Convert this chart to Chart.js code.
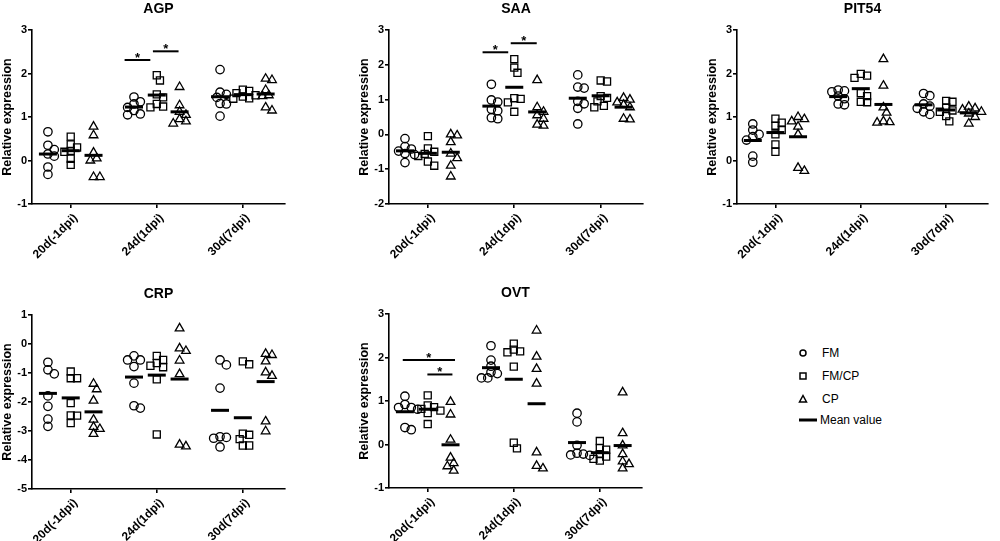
<!DOCTYPE html>
<html>
<head>
<meta charset="utf-8">
<script src="https://cdn.jsdelivr.net/npm/chart.js@4.4.1/dist/chart.umd.min.js"></script>
<style>
body { margin:0; background:#fff; width:1000px; height:541px; overflow:hidden; position:relative; font-family:"Liberation Sans", Arial, sans-serif; }
canvas { position:absolute; }
.lg { position:absolute; font-size:12px; color:#000; line-height:14px; }
.sym { position:absolute; }
</style>
</head>
<body>
<canvas id="agp" width="297" height="264" style="left:0;top:0"></canvas>
<canvas id="saa" width="298" height="264" style="left:357px;top:0"></canvas>
<canvas id="pit" width="295" height="264" style="left:705px;top:0"></canvas>
<canvas id="crp" width="297" height="264" style="left:0;top:285px"></canvas>
<canvas id="ovt" width="297" height="264" style="left:357px;top:284px"></canvas>

<svg class="sym" style="left:797px;top:347px" width="12" height="12"><circle cx="6" cy="6" r="3" fill="none" stroke="#000" stroke-width="1.5"/></svg>
<div class="lg" style="left:822px;top:346px">FM</div>
<svg class="sym" style="left:797px;top:370px" width="12" height="12"><rect x="3" y="3" width="6" height="6" fill="none" stroke="#000" stroke-width="1.5"/></svg>
<div class="lg" style="left:822px;top:369px">FM/CP</div>
<svg class="sym" style="left:797px;top:393px" width="12" height="12"><polygon points="6,2.5 9.5,9 2.5,9" fill="none" stroke="#000" stroke-width="1.5"/></svg>
<div class="lg" style="left:822px;top:392px">CP</div>
<svg class="sym" style="left:798px;top:414px" width="20" height="12"><line x1="1" y1="6" x2="19" y2="6" stroke="#000" stroke-width="3"/></svg>
<div class="lg" style="left:820px;top:413px">Mean value</div>

<script>
// categories
const timepoints = ['20d(-1dpi)', '24d(1dpi)', '30d(7dpi)'];
const groups = ['FM', 'FM/CP', 'CP'];

// values, one list per time point
const agpFM   = [[0.66,0.35,0.25,0.15,0.10,-0.15,-0.32],[1.46,1.35,1.30,1.22,1.15,1.07,1.05],[2.09,1.57,1.52,1.45,1.31,1.30,1.02]];
const agpFMCP = [[0.55,0.37,0.30,0.22,0.20,0.04,-0.10],[1.96,1.84,1.52,1.45,1.30,1.24,1.22],[1.63,1.60,1.55,1.50,1.47,1.43,1.42]];
const agpCP   = [[0.78,0.58,0.18,0.05,0.0,-0.38,-0.38],[1.69,1.27,1.12,1.05,0.95,0.90,0.85],[1.88,1.85,1.62,1.50,1.48,1.22,1.15]];

const saaFM   = [[-0.12,-0.35,-0.42,-0.48,-0.55,-0.58,-0.81],[1.44,0.99,0.93,0.72,0.68,0.48,0.45],[1.71,1.36,1.33,0.95,0.88,0.75,0.30]];
const saaFMCP = [[-0.05,-0.40,-0.50,-0.56,-0.62,-0.78,-0.90],[2.16,1.92,1.77,1.04,1.02,0.92,0.65],[1.55,1.52,1.10,1.05,0.95,0.82,0.78]];
const saaCP   = [[0.0,-0.03,-0.22,-0.55,-0.68,-0.90,-1.21],[1.56,0.78,0.65,0.55,0.45,0.28,0.25],[1.05,1.00,0.92,0.85,0.78,0.45,0.43]];

const pitFM   = [[0.84,0.70,0.60,0.55,0.47,0.10,-0.04],[1.62,1.60,1.58,1.48,1.42,1.30,1.28],[1.54,1.49,1.30,1.25,1.20,1.12,1.06]];
const pitFMCP = [[0.96,0.87,0.80,0.70,0.60,0.37,0.20],[1.99,1.95,1.90,1.55,1.48,1.35,1.34],[1.37,1.35,1.22,1.15,1.12,1.02,0.90]];
const pitCP   = [[1.00,0.95,0.90,0.78,0.60,-0.17,-0.24],[2.33,1.72,1.22,1.10,0.90,0.88,0.87],[1.24,1.20,1.17,1.12,1.08,1.00,0.85]];

const crpFM   = [[-0.63,-0.89,-1.03,-1.79,-2.15,-2.59,-2.84],[-0.41,-0.55,-0.55,-0.78,-1.35,-2.13,-2.21],[-0.55,-0.72,-1.52,-3.20,-3.22,-3.25,-3.55]];
const crpFMCP = [[-0.95,-1.18,-1.18,-2.04,-2.46,-2.47,-2.73],[-0.41,-0.55,-0.66,-0.75,-0.80,-1.22,-3.12],[-0.60,-0.70,-3.09,-3.13,-3.28,-3.50,-3.50]];
const crpCP   = [[-1.37,-1.56,-1.95,-2.61,-2.86,-2.93,-3.10],[0.54,-0.15,-0.24,-0.57,-1.04,-3.47,-3.53],[-0.34,-0.38,-0.60,-0.98,-1.10,-2.67,-3.01]];

const ovtFM   = [[1.11,0.92,0.85,0.85,0.81,0.39,0.34],[2.27,1.94,1.80,1.66,1.63,1.53,1.53],[0.72,0.52,-0.02,-0.20,-0.22,-0.24,-0.25]];
const ovtFMCP = [[1.13,0.90,0.86,0.82,0.78,0.72,0.47],[2.32,2.18,2.14,2.12,1.79,0.04,-0.09],[0.08,-0.08,-0.12,-0.22,-0.28,-0.33,-0.37]];
const ovtCP   = [[0.98,0.69,0.11,-0.30,-0.43,-0.50,-0.60],[2.62,2.02,1.74,1.40,-0.18,-0.49,-0.55],[1.20,0.26,-0.02,-0.22,-0.39,-0.45,-0.55]];

// y tick labels per panel
const agpTicks = [-1, 0, 1, 2, 3];
const saaTicks = [-2, -1, 0, 1, 2, 3];
const pitTicks = [-1, 0, 1, 2, 3];
const crpTicks = [-5, -4, -3, -2, -1, 0, 1];
const ovtTicks = [-1, 0, 1, 2, 3];

const FONT = '"Liberation Sans", Arial, sans-serif';
const X_MIN = 0.55, X_MAX = 3.49;
const PLOT_W = 263, PLOT_H = 174;
const groupOffset = [-0.265, 0, 0.265];
const styles = ['circle', 'rect', 'triangle'];
const radii = [4.2, 5, 5];

// spread overlapping points sideways, like a column scatter
function swarm(vals, center, pxY) {
  const pxX = PLOT_W / (X_MAX - X_MIN);
  const d = 6, step = 3.3;
  const placed = [];
  const out = [];
  const order = vals.map((v, i) => i).sort((a, b) => vals[b] - vals[a]);
  order.forEach(i => {
    const y = vals[i] * pxY;
    let off = 0;
    for (let k = 0; k < 30; k++) {
      const m = Math.ceil(k / 2);
      off = (k % 2 === 1 ? 1 : -1) * m * step;
      if (placed.every(p => (p.x - off) ** 2 + (p.y - y) ** 2 >= d * d)) break;
    }
    placed.push({x: off, y: y});
    out.push({x: center + off / pxX, y: vals[i]});
  });
  return out;
}

const sigPlugin = {
  id: 'sig',
  afterDatasetsDraw(chart, args, opts) {
    const bars = opts.bars || [];
    const {ctx} = chart;
    const x = chart.scales.x, y = chart.scales.y;
    ctx.save();
    ctx.strokeStyle = '#000';
    ctx.fillStyle = '#000';
    ctx.lineWidth = 2;
    ctx.font = 'bold 13px ' + FONT;
    ctx.textAlign = 'center';
    bars.forEach(b => {
      const x1 = x.getPixelForValue(b[0]), x2 = x.getPixelForValue(b[1]), yy = y.getPixelForValue(b[2]);
      ctx.beginPath();
      ctx.moveTo(x1, yy);
      ctx.lineTo(x2, yy);
      ctx.stroke();
      ctx.fillText('*', (x1 + x2) / 2, yy + 2);
    });
    ctx.restore();
  }
};

function makePanel(id, title, series, yTicks, bars) {
  const yMin = yTicks[0], yMax = yTicks[yTicks.length - 1];
  const pxY = PLOT_H / (yMax - yMin);
  const datasets = [];
  series.forEach((grp, g) => {
    let pts = [];
    const means = [];
    grp.forEach((vals, t) => {
      const c = t + 1 + groupOffset[g];
      pts = pts.concat(swarm(vals, c, pxY));
      means.push({x: c, y: vals.reduce((a, b) => a + b, 0) / vals.length});
    });
    datasets.push({
      label: groups[g], data: pts, pointStyle: styles[g], pointRadius: radii[g],
      borderColor: '#000', backgroundColor: 'rgba(0,0,0,0)', borderWidth: 1.3
    });
    datasets.push({
      label: 'Mean value', data: means, pointStyle: 'line', pointRadius: 9,
      borderColor: '#000', backgroundColor: '#000', borderWidth: 3
    });
  });

  const tickFont = {family: FONT, size: 11, weight: 'bold'};
  new Chart(document.getElementById(id), {
    type: 'scatter',
    data: {datasets: datasets},
    plugins: [sigPlugin],
    options: {
      responsive: false,
      animation: false,
      events: [],
      clip: false,
      layout: {padding: {left: 0, right: 2, top: 0, bottom: 0}},
      plugins: {
        legend: {display: false},
        tooltip: {enabled: false},
        title: {
          display: true, text: title, fullSize: false, color: '#000',
          font: {family: FONT, size: 14, weight: 'bold'}, padding: {top: 1, bottom: 12.2}
        },
        sig: {bars: bars}
      },
      scales: {
        x: {
          type: 'linear', min: X_MIN, max: X_MAX,
          afterBuildTicks: s => { s.ticks = timepoints.map((t, i) => ({value: i + 1})); },
          afterFit: s => { s.height = 60; },
          ticks: {
            color: '#000', font: {family: FONT, size: 12, weight: 'bold'},
            autoSkip: false, maxRotation: 45, minRotation: 45, padding: 3, labelOffset: 5,
            callback: v => timepoints[Math.round(v) - 1]
          },
          grid: {drawOnChartArea: false, tickLength: 4, color: '#000', lineWidth: 1.6},
          border: {color: '#000', width: 1.6}
        },
        y: {
          type: 'linear', min: yMin, max: yMax,
          afterBuildTicks: s => { s.ticks = yTicks.map(v => ({value: v})); },
          afterFit: s => { s.width = 32; },
          ticks: {color: '#000', font: tickFont, padding: 1},
          grid: {drawOnChartArea: false, tickLength: 4, color: '#000', lineWidth: 1.6},
          border: {color: '#000', width: 1.6},
          title: {
            display: true, text: 'Relative expression', color: '#000',
            font: {family: FONT, size: 12.5, weight: 'bold'}, padding: {top: 0.5, bottom: 0}
          }
        }
      }
    }
  });
}

makePanel('agp', 'AGP', [agpFM, agpFMCP, agpCP], agpTicks, [[1.626, 1.925, 2.31], [1.955, 2.253, 2.51]]);
makePanel('saa', 'SAA', [saaFM, saaFMCP, saaCP], saaTicks, [[1.633, 1.93, 2.36], [1.959, 2.26, 2.62]]);
makePanel('pit', 'PIT54', [pitFM, pitFMCP, pitCP], pitTicks, []);
makePanel('crp', 'CRP', [crpFM, crpFMCP, crpCP], crpTicks, []);
makePanel('ovt', 'OVT', [ovtFM, ovtFMCP, ovtCP], ovtTicks, [[0.71, 1.317, 1.94], [0.996, 1.287, 1.61]]);
</script>
</body>
</html>
